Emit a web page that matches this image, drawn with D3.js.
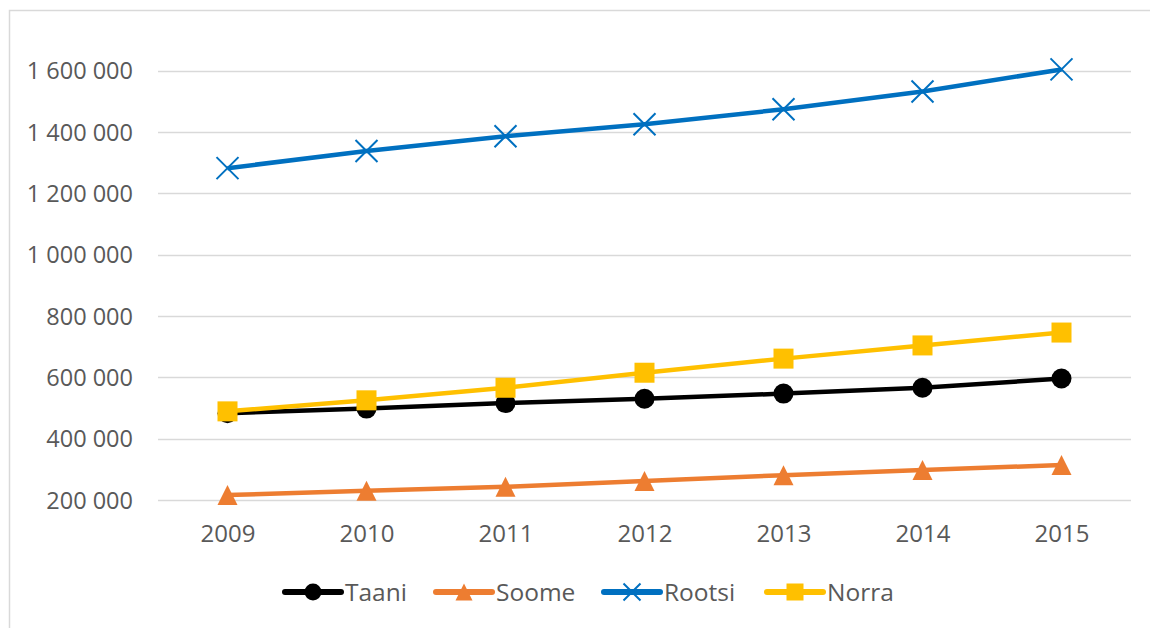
<!DOCTYPE html>
<html>
<head>
<meta charset="utf-8">
<script src="https://cdn.jsdelivr.net/npm/d3@7"></script>
<style>
  html, body { margin: 0; padding: 0; background: #fff; }
  text { font-family: "Open Sans", sans-serif; fill: #595959; }
</style>
</head>
<body>
<div id="chart"></div>
<script>
// data
var years = ["2009", "2010", "2011", "2012", "2013", "2014", "2015"];
var taani  = [483000, 498000, 516000, 530000, 547000, 566000, 596000];
var soome  = [216000, 230000, 243000, 262000, 281000, 298000, 314000];
var rootsi = [1282000, 1338000, 1386000, 1425000, 1474000, 1532000, 1604000];
var norra  = [489000, 525000, 566000, 615000, 661000, 704000, 746000];
var yTicks = [200000, 400000, 600000, 800000, 1000000, 1200000, 1400000, 1600000];

var series = [
  { name: "Taani",  values: taani,  color: "#000000", marker: "circle" },
  { name: "Soome",  values: soome,  color: "#ED7D31", marker: "triangle" },
  { name: "Rootsi", values: rootsi, color: "#0070C0", marker: "cross" },
  { name: "Norra",  values: norra,  color: "#FFC000", marker: "square" }
];

var w = 1150, h = 628;
var svg = d3.select("#chart").append("svg")
  .attr("width", w)
  .attr("height", h);

// outer chart border (right and bottom edges fall outside the picture)
svg.append("rect")
  .attr("x", 9.5).attr("y", 10.5)
  .attr("width", 1300).attr("height", 800)
  .attr("fill", "none")
  .attr("stroke", "#d9d9d9")
  .attr("stroke-width", 1.5);

var x = d3.scalePoint()
  .domain(years)
  .range([158, 1131])
  .padding(0.5);

var y = d3.scaleLinear()
  .domain([200000, 1800000])
  .range([500, 9.3]);

var fmt = function(d) {
  return d3.format(",")(d).replace(/,/g, " ");
};

// gridlines
svg.append("g")
  .selectAll("line")
  .data(yTicks)
  .enter()
  .append("line")
  .attr("x1", 158).attr("x2", 1131)
  .attr("y1", function(d) { return Math.round(y(d)) + 0.5; })
  .attr("y2", function(d) { return Math.round(y(d)) + 0.5; })
  .attr("stroke", "#d9d9d9")
  .attr("stroke-width", 1.5);

// y axis labels
var yAxis = d3.axisLeft(y).tickValues(yTicks).tickFormat(fmt).tickSize(0).tickPadding(0);
var gy = svg.append("g")
  .attr("transform", "translate(133,0)")
  .call(yAxis);
gy.select(".domain").remove();
gy.selectAll("text")
  .attr("font-size", "23.5px")
  .attr("font-family", "Open Sans, sans-serif")
  .attr("fill", "#595959")
  .attr("dy", "0.35em");

// x axis labels
var xAxis = d3.axisBottom(x).tickSize(0).tickPadding(0);
var gx = svg.append("g")
  .attr("transform", "translate(0,520)")
  .call(xAxis);
gx.select(".domain").remove();
gx.selectAll("text")
  .attr("font-size", "24px")
  .attr("font-family", "Open Sans, sans-serif")
  .attr("fill", "#595959")
  .attr("dy", "0.92em");

function drawMarker(g, type, color, size) {
  if (type === "circle") {
    g.append("circle").attr("r", size / 2).attr("fill", color);
  } else if (type === "square") {
    g.append("rect")
      .attr("x", -size / 2).attr("y", -size / 2)
      .attr("width", size).attr("height", size)
      .attr("fill", color);
  } else if (type === "triangle") {
    var s = size / 2;
    g.append("path")
      .attr("d", "M0," + (-s) + "L" + s + "," + s + "L" + (-s) + "," + s + "Z")
      .attr("fill", color);
  } else if (type === "cross") {
    var c = size / 2;
    g.append("path")
      .attr("d", "M" + (-c) + "," + (-c) + "L" + c + "," + c + "M" + c + "," + (-c) + "L" + (-c) + "," + c)
      .attr("stroke", color)
      .attr("stroke-width", 2)
      .attr("fill", "none");
  }
}

var line = d3.line()
  .x(function(d, i) { return x(years[i]); })
  .y(function(d) { return y(d); });

series.forEach(function(s) {
  var g = svg.append("g");
  g.append("path")
    .datum(s.values)
    .attr("d", line)
    .attr("fill", "none")
    .attr("stroke", s.color)
    .attr("stroke-width", 4.5)
    .attr("stroke-linejoin", "round");
  g.selectAll("g.mk")
    .data(s.values)
    .enter()
    .append("g")
    .attr("class", "mk")
    .attr("transform", function(d, i) { return "translate(" + x(years[i]) + "," + y(d) + ")"; })
    .each(function() {
      drawMarker(d3.select(this), s.marker, s.color, s.marker === "cross" ? 22 : 20);
    });
});

// legend
var legendX = [285, 436, 604, 767];
var legend = svg.append("g").attr("transform", "translate(0,592)");
series.forEach(function(s, i) {
  var lg = legend.append("g").attr("transform", "translate(" + legendX[i] + ",0)");
  lg.append("line")
    .attr("x1", 0).attr("x2", 56)
    .attr("y1", 0).attr("y2", 0)
    .attr("stroke", s.color)
    .attr("stroke-width", 6)
    .attr("stroke-linecap", "round");
  var m = lg.append("g").attr("transform", "translate(28,0)");
  drawMarker(m, s.marker, s.color, 17);
  lg.append("text")
    .attr("x", 60)
    .attr("y", 0)
    .attr("dy", "0.36em")
    .attr("font-size", "24.5px")
    .text(s.name);
});
</script>
</body>
</html>
